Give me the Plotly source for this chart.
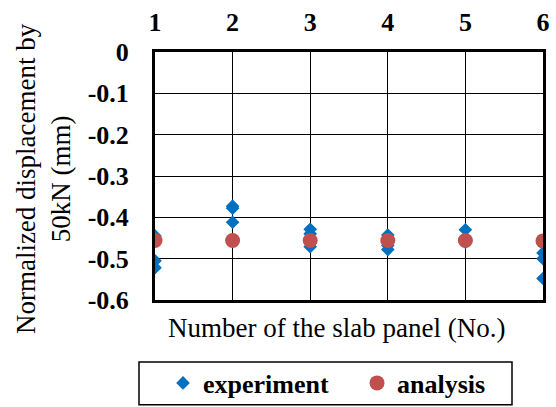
import plotly.graph_objects as go

exp_x = [1, 1, 1, 2, 2, 2, 3, 3, 3, 4, 4, 4, 5, 5, 6, 6, 6]
exp_y = [-0.445, -0.505, -0.522, -0.373, -0.378, -0.412, -0.429, -0.44, -0.471,
         -0.443, -0.468, -0.478, -0.43, -0.46, -0.486, -0.50, -0.548]
ana_x = [1, 2, 3, 4, 5, 6]
ana_y = [-0.456, -0.456, -0.456, -0.456, -0.456, -0.457]
x_ticks = [1, 2, 3, 4, 5, 6]
y_ticks = [0, -0.1, -0.2, -0.3, -0.4, -0.5, -0.6]

font_fam = "Liberation Serif"
leg_font = dict(family=font_fam, size=26)

fig = go.Figure()
fig.add_trace(go.Scatter(x=exp_x, y=exp_y, mode="markers", name="<b>experiment</b>",
                         legend="legend",
                         marker=dict(symbol="diamond", size=10.5, color="#0070C0")))
fig.add_trace(go.Scatter(x=ana_x, y=ana_y, mode="markers", name="<b>analysis</b>",
                         legend="legend2",
                         marker=dict(symbol="circle", size=15, color="#C0504D")))

fig.update_layout(
    width=556, height=407,
    margin=dict(l=155, r=13, t=52, b=107, autoexpand=False),
    paper_bgcolor="white", plot_bgcolor="white",
    font=dict(family=font_fam, color="black", size=26),
    showlegend=True,
    legend=dict(orientation="h", xref="container", yref="container",
                x=163 / 556, xanchor="left", y=1 - 383 / 407, yanchor="middle",
                borderwidth=0, bgcolor="rgba(0,0,0,0)",
                font=leg_font, itemsizing="trace"),
    legend2=dict(orientation="h", xref="container", yref="container",
                 x=357 / 556, xanchor="left", y=1 - 383 / 407, yanchor="middle",
                 borderwidth=0, bgcolor="rgba(0,0,0,0)",
                 font=leg_font, itemsizing="trace"),
    xaxis=dict(range=[1, 6], side="top", tickvals=x_ticks,
               ticktext=[f"<b>{v}</b>" for v in x_ticks],
               tickfont=dict(family=font_fam, size=26),
               ticklabelstandoff=8,
               showgrid=True, gridcolor="black", gridwidth=1,
               showline=True, linecolor="black", linewidth=3, mirror=True,
               zeroline=False, ticks="", ticklen=0),
    yaxis=dict(range=[-0.6, 0], tickvals=y_ticks,
               ticktext=["<b>0</b>" if v == 0 else f"<b>{v:.1f}</b>" for v in y_ticks],
               tickfont=dict(family=font_fam, size=26),
               ticklabelstandoff=18,
               showgrid=True, gridcolor="black", gridwidth=1,
               showline=True, linecolor="black", linewidth=3, mirror=True,
               zeroline=False, ticks="", ticklen=0),
    shapes=[
        dict(type="rect", xref="paper", yref="paper",
             x0=(139 - 155) / 388, x1=(512 - 155) / 388,
             y0=-(362 - 300) / 248.3, y1=-(405 - 300) / 248.3,
             line=dict(color="black", width=1.5), fillcolor="rgba(0,0,0,0)"),
    ],
    annotations=[
        dict(text="Number of the slab panel (No.)", xref="paper", yref="paper",
             x=0.469, y=-0.113, xanchor="center", yanchor="middle", showarrow=False,
             font=dict(family=font_fam, size=27)),
        dict(text="Normalized displacement by<br>50kN (mm)", xref="paper", yref="paper",
             x=-0.289, y=0.491, xanchor="center", yanchor="middle", showarrow=False,
             textangle=-90, font=dict(family=font_fam, size=27)),
    ],
)

fig.write_html("out.html")
